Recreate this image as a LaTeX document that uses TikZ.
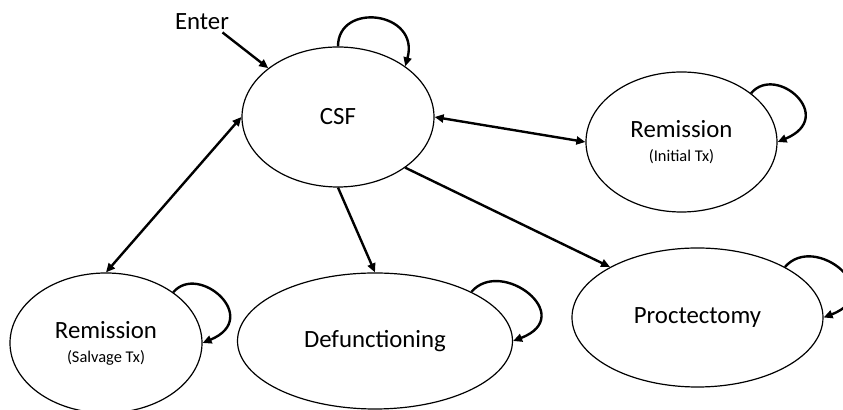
\documentclass[tikz,border=0pt]{standalone}
\usepackage{fontspec}
\setmainfont{Carlito}
\usetikzlibrary{arrows.meta,shapes.geometric}
\newcommand{\subtx}[1]{{\fontsize{8.2}{10}\selectfont #1}}

\begin{document}
\begin{tikzpicture}[x=0.5pt,y=-0.5pt,
    >={Triangle[length=4.5pt,width=4pt]},
    state/.style={ellipse,draw,line width=0.6pt,inner sep=0pt,align=center,
                  font=\fontsize{12.4}{14}\selectfont},
    link/.style={line width=1.2pt,->},
    both/.style={line width=1.2pt,<->}]
  \useasboundingbox (0,0) rectangle (843,410);
  % states
  \node[state,minimum width=96pt,minimum height=70pt] (csf) at (338,117) {CSF};
  \node[state,minimum width=95.5pt,minimum height=70pt] (rem1) at (681.5,142)
       {Remission\\[-2pt]\subtx{(Initial Tx)}};
  \node[state,minimum width=96pt,minimum height=70pt] (sal) at (106,343)
       {Remission\\[-2pt]\subtx{(Salvage Tx)}};
  \node[state,minimum width=137.5pt,minimum height=68pt] (def) at (375,341) {Defunctioning};
  \node[state,minimum width=125.5pt,minimum height=69.5pt] (proc) at (697.5,317.5) {Proctectomy};
  \node[font=\fontsize{12.4}{14}\selectfont,inner sep=1pt] (enter) at (202,22) {Enter};
  % transitions
  \draw[link] (enter.-27) -- (csf.145);
  \draw[both] (csf.0) -- (rem1.180);
  \draw[both] (sal.90) -- (csf.180);
  \draw[link] (csf.270) -- (def.90);
  \draw[link] (csf.-37) -- (proc.150);
  % self loops
  \draw[link] (csf.90) .. controls +(0,-45) and +(15,-55) .. (csf.37);
  \draw[link] (rem1.35) .. controls +(25,-30) and +(60,-25) .. (rem1.0);
  \draw[link] (sal.37) .. controls +(25,-30) and +(60,-25) .. (sal.0);
  \draw[link] (def.27) .. controls +(30,-35) and +(65,-25) .. (def.0);
  \draw[link] (proc.30) .. controls +(30,-35) and +(65,-25) .. (proc.0);
\end{tikzpicture}
\end{document}
